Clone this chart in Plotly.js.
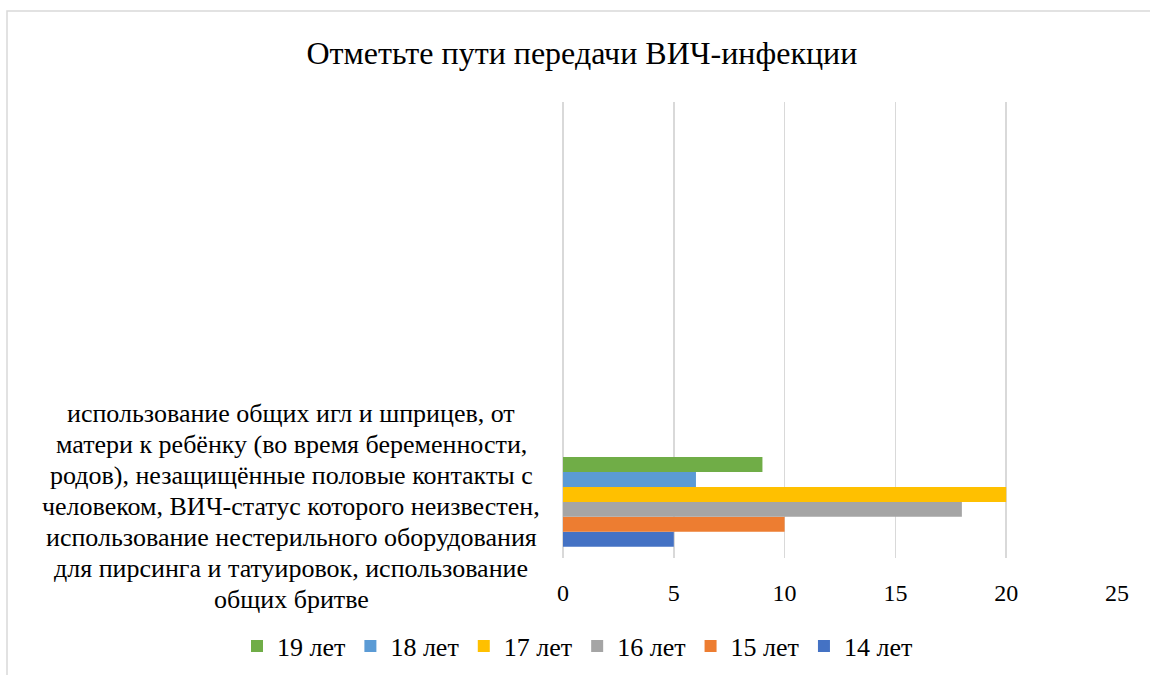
<!DOCTYPE html>
<html>
<head>
<meta charset="utf-8">
<script src="https://cdn.plot.ly/plotly-3.0.1.min.js"></script>
<style>
html,body{margin:0;padding:0;background:#fff;}
#chart{width:1150px;height:675px;}
</style>
</head>
<body>
<div id="chart"></div>
<script>
const categoryLines = [
  "использование общих игл и шприцев, от",
  "матери к ребёнку (во время беременности,",
  "родов), незащищённые половые контакты с",
  "человеком, ВИЧ-статус которого неизвестен,",
  "использование нестерильного оборудования",
  "для пирсинга и татуировок, использование",
  "общих бритве"
];
const seriesNames = ["14 лет", "15 лет", "16 лет", "17 лет", "18 лет", "19 лет"];
const seriesValues = [5, 10, 18, 20, 6, 9];
const seriesColors = ["#4472C4", "#ED7D31", "#A5A5A5", "#FFC000", "#5B9BD5", "#70AD47"];
const xTicks = [0, 5, 10, 15, 20, 25];

const font = "Liberation Serif, Times New Roman, serif";

const traces = seriesNames.map((name, i) => ({
  type: 'bar',
  orientation: 'h',
  name: name,
  x: [seriesValues[i]],
  y: [0],
  marker: {color: seriesColors[i]},
  hoverinfo: 'x+name'
}));

// category label drawn line by line, centred as one block next to the bars
const linePitch = 31;
const annotations = categoryLines.map((line, i) => ({
  xref: 'paper', yref: 'y',
  x: (291 - 563) / 554, y: 0,
  xanchor: 'center', yanchor: 'middle',
  yshift: -((i - (categoryLines.length - 1) / 2) * linePitch) - 5,
  showarrow: false,
  text: line,
  font: {family: font, size: 26, color: '#000'}
}));

const layout = {
  width: 1150,
  height: 675,
  margin: {l: 563, r: 33, t: 102, b: 117, autoexpand: false},
  paper_bgcolor: '#ffffff',
  plot_bgcolor: '#ffffff',
  font: {family: font, color: '#000', size: 24},
  title: {
    text: 'Отметьте пути передачи ВИЧ-инфекции',
    font: {family: font, size: 32, color: '#000'},
    x: 0.506, xanchor: 'center',
    y: 0.922, yanchor: 'middle'
  },
  barmode: 'group',
  bargap: 0.2,
  bargroupgap: 0,
  xaxis: {
    range: [0, 25],
    tickvals: xTicks,
    ticktext: xTicks.map(String),
    showgrid: true,
    gridcolor: '#d9d9d9',
    gridwidth: 1.5,
    zeroline: true,
    zerolinecolor: '#d9d9d9',
    zerolinewidth: 1.5,
    showline: false,
    ticks: 'outside',
    ticklen: 13,
    tickcolor: 'rgba(0,0,0,0)',
    tickfont: {family: font, size: 24, color: '#000'},
    automargin: false,
    fixedrange: true
  },
  yaxis: {
    range: [-0.5, 3.5625],
    showticklabels: false,
    showgrid: false,
    zeroline: false,
    showline: false,
    ticks: '',
    automargin: false,
    fixedrange: true
  },
  showlegend: true,
  legend: {
    orientation: 'h',
    traceorder: 'reversed',
    x: (237 - 563) / 554, xanchor: 'left',
    y: -0.193, yanchor: 'middle',
    bgcolor: 'rgba(0,0,0,0)',
    font: {family: font, size: 26, color: '#000'},
    itemwidth: 30,
    tracegroupgap: 0
  },
  annotations: annotations,
  shapes: [{
    type: 'rect', xref: 'paper', yref: 'paper',
    x0: (7 - 563) / 554, x1: (1160 - 563) / 554,
    y0: (558 - 690) / 456, y1: (558 - 11) / 456,
    line: {color: '#d9d9d9', width: 1.5},
    fillcolor: 'rgba(0,0,0,0)',
    layer: 'below'
  }]
};

Plotly.newPlot('chart', traces, layout, {displayModeBar: false, staticPlot: true});
</script>
</body>
</html>
